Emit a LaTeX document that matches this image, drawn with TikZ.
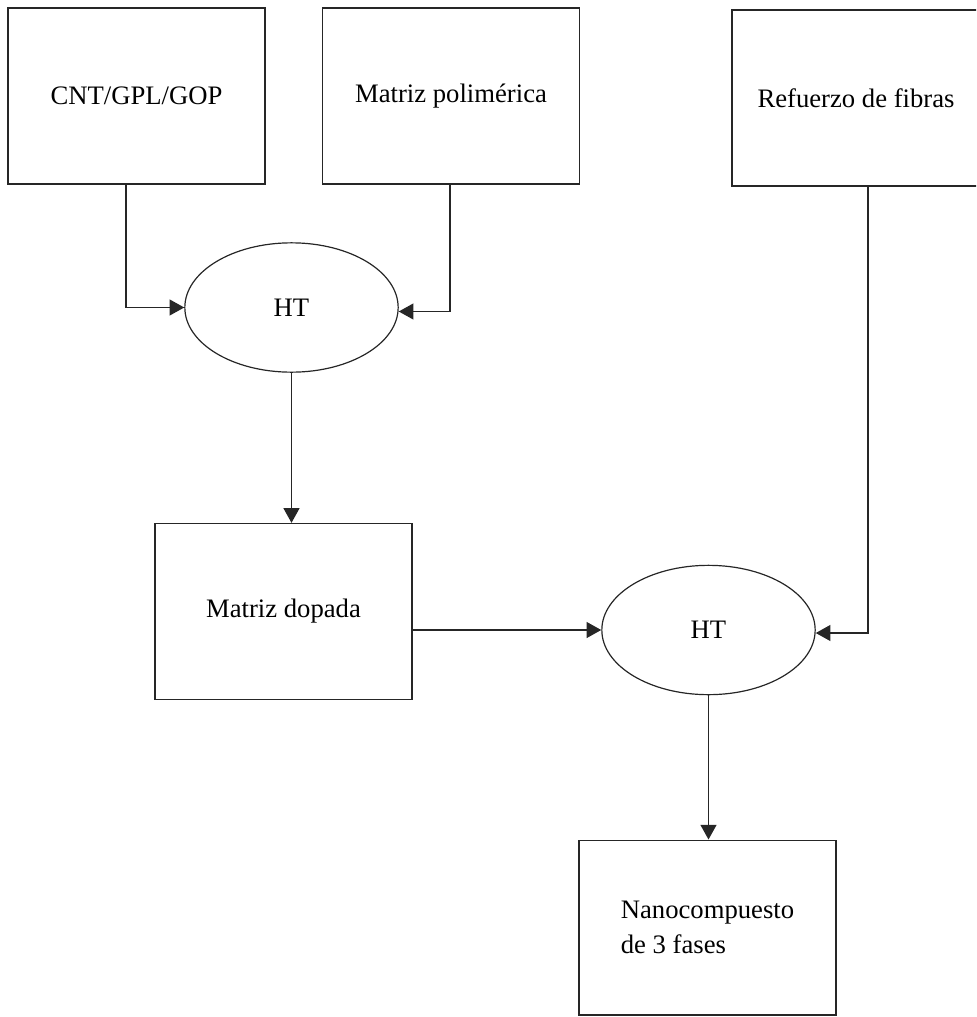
\documentclass[tikz,border=0pt]{standalone}
\usepackage{fontspec}
\setmainfont{Liberation Serif}
\usetikzlibrary{shapes.geometric,arrows.meta}
\begin{document}
\begin{tikzpicture}[x=0.75pt,y=-0.75pt,
  box/.style={draw=black!85,line width=1pt,rectangle,inner sep=0pt,
    minimum width=192.75pt,minimum height=132pt,font=\fontsize{20}{26}\selectfont,align=left},
  proc/.style={draw=black!85,line width=0.9pt,ellipse,inner sep=0pt,
    minimum width=160pt,minimum height=97pt,font=\fontsize{20}{24}\selectfont},
  arr/.style={draw=black!85,line width=0.9pt,-{Triangle[length=11pt,width=12pt]}}]
\path[use as bounding box,clip] (0,0) rectangle (976,1017);
\node[box] (cnt) at (136.5,96) {CNT/GPL/GOP};
\node[box] (pol) at (451,96) {Matriz polimérica};
\node[box,minimum width=186pt] (ref) at (856,98) {Refuerzo de fibras};
\node[proc] (ht1) at (291.5,307.5) {HT};
\node[box] (dop) at (283.5,611.5) {Matriz dopada};
\node[proc] (ht2) at (708.5,630) {HT};
\node[box,minimum height=131pt] (nano) at (707.5,927.5) {Nanocompuesto\\de 3 fases};
\draw[arr] ([xshift=-7.9pt]cnt.south) |- (ht1.west);
\draw[arr] ([xshift=-0.75pt]pol.south) |- ([yshift=-3pt]ht1.east);
\draw[arr] (ht1.south) -- (ht1.south |- dop.north);
\draw[arr] ([yshift=-5pt]dop.east) |- (ht2.west);
\draw[arr] ([xshift=9pt]ref.south) |- ([yshift=-2.25pt]ht2.east);
\draw[arr] (ht2.south) -- (ht2.south |- nano.north);
\end{tikzpicture}
\end{document}
